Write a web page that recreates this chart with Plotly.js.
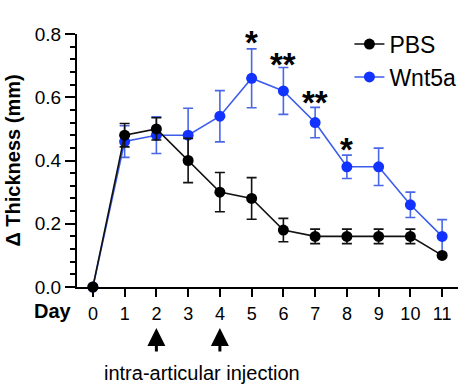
<!DOCTYPE html>
<html>
<head>
<meta charset="utf-8">
<script src="https://cdn.plot.ly/plotly-3.0.1.min.js"></script>
<style>html,body{margin:0;padding:0;background:#fff;}#chart{width:474px;height:391px;}</style>
</head>
<body>
<div id="chart"></div>
<script>
const days = [0,1,2,3,4,5,6,7,8,9,10,11];
const pbsMean = [0,0.48,0.50,0.40,0.30,0.28,0.18,0.16,0.16,0.16,0.16,0.10];
const pbsErr  = [0,0.037,0.035,0.07,0.062,0.066,0.037,0.023,0.023,0.023,0.023,0];
const wntMean = [0,0.46,0.48,0.48,0.54,0.66,0.62,0.52,0.38,0.38,0.26,0.16];
const wntErr  = [0,0.05,0.058,0.085,0.081,0.093,0.074,0.048,0.037,0.059,0.04,0.053];
const sigDays = [5,6,7,8];
const sigLabels = ['*','**','**','*'];
const sigY = [0.798,0.730,0.609,0.460];
const injectionDays = [2,4];

const FONT = 'Liberation Sans, Arial, sans-serif';

const traces = [
  {
    x: days, y: wntMean, name: 'Wnt5a', type: 'scatter', mode: 'lines+markers',
    line: {color: '#3d5ceb', width: 1.6},
    marker: {color: '#1233ff', size: 11},
    error_y: {type: 'data', array: wntErr, visible: true, color: '#4a68e6', thickness: 1.6, width: 5},
    cliponaxis: false, legendrank: 2
  },
  {
    x: days, y: pbsMean, name: 'PBS', type: 'scatter', mode: 'lines+markers',
    line: {color: '#111111', width: 1.6},
    marker: {color: '#000000', size: 11},
    error_y: {type: 'data', array: pbsErr, visible: true, color: '#111111', thickness: 1.6, width: 5},
    cliponaxis: false, legendrank: 1
  }
];

const annotations = [];
sigDays.forEach((d, i) => {
  annotations.push({
    x: d, y: sigY[i], xref: 'x', yref: 'y', text: sigLabels[i], showarrow: false,
    yanchor: 'middle', yshift: -8,
    font: {family: FONT, size: 33, color: '#000', weight: 'bold'}
  });
});
injectionDays.forEach(d => {
  annotations.push({
    x: d, y: -0.162, xref: 'x', yref: 'paper', text: '', showarrow: true,
    ax: 0, ay: 25, arrowhead: 2, arrowsize: 1.2, arrowwidth: 3, arrowcolor: '#000'
  });
});
annotations.push({
  x: 0.327, y: -0.339, xref: 'paper', yref: 'paper', text: 'intra-articular injection',
  showarrow: false, xanchor: 'center', yanchor: 'middle',
  font: {family: FONT, size: 20, color: '#000'}
});
annotations.push({
  x: -0.062, y: -0.095, xref: 'paper', yref: 'paper', text: 'Day',
  showarrow: false, xanchor: 'center', yanchor: 'middle',
  font: {family: FONT, size: 20, color: '#000', weight: 'bold'}
});

const layout = {
  width: 474, height: 391,
  margin: {l: 77, r: 16, t: 34, b: 104},
  paper_bgcolor: '#fff', plot_bgcolor: '#fff',
  font: {family: FONT, color: '#000'},
  showlegend: true,
  legend: {x: 0.715, xanchor: 'left', y: 1.045, yanchor: 'top',
           font: {family: FONT, size: 23, color: '#000'}, bgcolor: 'rgba(0,0,0,0)'},
  xaxis: {
    range: [-0.5, 11.5], tickmode: 'array', tickvals: days, ticktext: days.map(String),
    showgrid: false, zeroline: false, showline: true, linecolor: '#000', linewidth: 2,
    ticks: 'outside', ticklen: 8, tickwidth: 2, tickcolor: '#000',
    ticklabelstandoff: 1,
    tickfont: {family: FONT, size: 18, color: '#000'}
  },
  yaxis: {
    range: [0, 0.8], tickmode: 'array', tickvals: [0,0.2,0.4,0.6,0.8],
    ticktext: ['0.0','0.2','0.4','0.6','0.8'],
    showgrid: false, zeroline: false, showline: true, linecolor: '#000', linewidth: 2,
    ticks: 'outside', ticklen: 10, tickwidth: 2, tickcolor: '#000',
    minor: {dtick: 0.04, ticks: 'outside', ticklen: 5, tickwidth: 2, tickcolor: '#000', showgrid: false},
    tickfont: {family: FONT, size: 19, color: '#000'},
    title: {text: 'Δ Thickness (mm)', standoff: 9,
            font: {family: FONT, size: 20, color: '#000', weight: 'bold'}}
  },
  annotations: annotations
};

Plotly.newPlot('chart', traces, layout, {displayModeBar: false, staticPlot: true});
</script>
</body>
</html>
